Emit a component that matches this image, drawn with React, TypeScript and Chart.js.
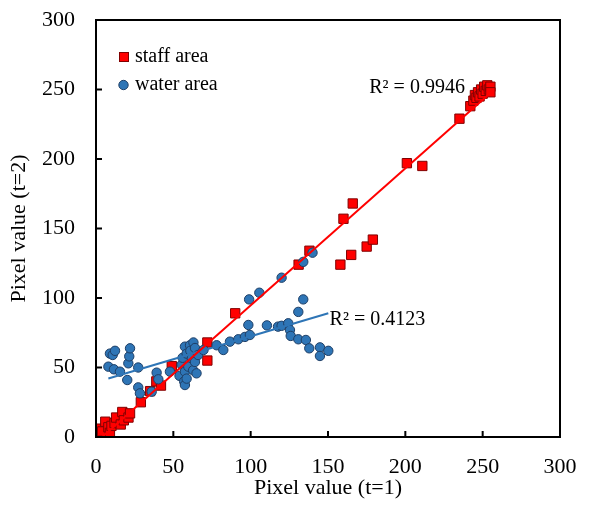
import React, { useEffect, useRef } from "react";
import { Chart, registerables } from "chart.js";

Chart.register(...registerables);

// staff area (x = t=1, y = t=2)
const staffX = [1, 4, 6, 8, 9, 10, 12, 13, 16, 17, 18, 21, 22, 29, 35, 39, 42, 49, 72, 72, 90, 131, 138, 158, 160, 165, 166, 175, 179, 201, 211, 235, 242, 244, 245, 246, 247, 248, 249, 250, 251, 252, 253, 254, 255, 255];
const staffY = [6, 4, 11, 7, 3, 8, 10, 14, 9, 18, 12, 14, 17, 25, 33, 40, 37, 51, 55, 68, 89, 124, 134, 124, 157, 131, 168, 137, 142, 197, 195, 229, 238, 242, 246, 244, 248, 245, 250, 247, 252, 249, 253, 250, 252, 248];

// water area
const waterX = [8, 9, 10.8, 11.6, 12.3, 15.5, 20.2, 20.9, 21.5, 22, 27.3, 27.3, 28.4, 36, 39.2, 40.3, 47.8, 54, 55.4, 56, 57, 57.5, 57.5, 57.5, 58.6, 58.6, 59.7, 60.8, 61, 62, 62.8, 63, 64, 64, 65, 66, 69.5, 78, 82.3, 86.6, 92, 96.3, 98.5, 99.5, 110.5, 117.7, 120, 124.3, 125.4, 125.9, 130.8, 130.8, 134, 135.7, 137.9, 144.8, 144.8, 150.2, 99, 105.6, 120, 134, 140];
const waterY = [50.6, 60, 59, 48.7, 62, 47, 41, 53, 58, 63.8, 50, 35.7, 31.4, 32.6, 46.3, 41.5, 47, 44, 52, 57, 40, 65, 47, 37.4, 60, 42, 50.6, 66, 62, 56.6, 48, 68, 64, 54, 45.8, 59, 62.6, 66, 62.6, 68.6, 70.3, 72, 80.6, 73.4, 80.3, 79.4, 80, 81.8, 77, 72.7, 90, 70.3, 99, 69.8, 63.8, 64.5, 58.3, 62, 99, 103.8, 114.6, 126, 132.6];

const axisTicks = [0, 50, 100, 150, 200, 250, 300];
const seriesNames = ["staff area", "water area"];
const r2Labels = ["R\u00B2 = 0.9946", "R\u00B2 = 0.4123"];

const FONT = "'Liberation Serif', 'Times New Roman', serif";
const RED = "#FF0000";
const RED_BORDER = "#800000";
const BLUE = "#2E75B6";
const BLUE_BORDER = "#1F3F66";

function trend(xs: number[], ys: number[]) {
  const n = xs.length;
  let sx = 0, sy = 0, sxx = 0, sxy = 0;
  for (let i = 0; i < n; i++) {
    sx += xs[i]; sy += ys[i]; sxx += xs[i] * xs[i]; sxy += xs[i] * ys[i];
  }
  const m = (n * sxy - sx * sy) / (n * sxx - sx * sx);
  const b = (sy - m * sx) / n;
  const x0 = Math.min(...xs), x1 = Math.max(...xs);
  return [{ x: x0, y: m * x0 + b }, { x: x1, y: m * x1 + b }];
}

export default function App() {
  const ref = useRef<HTMLCanvasElement>(null);
  useEffect(() => {
    document.body.style.margin = "0";
    const ctx = ref.current!.getContext("2d")!;
    const staffPts = staffX.map((x, i) => ({ x, y: staffY[i] }));
    const waterPts = waterX.map((x, i) => ({ x, y: waterY[i] }));

    const decor = {
      id: "decor",
      afterDraw(chart: any) {
        const c = chart.ctx;
        const { left, right, top, bottom } = chart.chartArea;
        const xs = chart.scales.x, ys = chart.scales.y;
        c.save();
        c.strokeStyle = "#000";
        c.lineWidth = 2;
        c.strokeRect(left, top, right - left, bottom - top);
        c.beginPath();
        for (const t of axisTicks) {
          const px = xs.getPixelForValue(t);
          c.moveTo(px, bottom); c.lineTo(px, bottom - 6);
          const py = ys.getPixelForValue(t);
          c.moveTo(left, py); c.lineTo(left + 6, py);
        }
        c.stroke();
        // legend
        c.font = `20px ${FONT}`;
        c.textBaseline = "middle";
        c.textAlign = "left";
        c.lineWidth = 1;
        c.fillStyle = RED; c.strokeStyle = RED_BORDER;
        c.fillRect(119, 52, 9, 9); c.strokeRect(119.5, 52.5, 9, 9);
        c.fillStyle = BLUE; c.strokeStyle = BLUE_BORDER;
        c.beginPath(); c.arc(123.5, 85, 4.7, 0, Math.PI * 2); c.fill(); c.stroke();
        c.fillStyle = "#000";
        c.fillText(seriesNames[0], 135, 57);
        c.fillText(seriesNames[1], 135, 85);
        // R2 labels
        c.textAlign = "right";
        c.fillText(r2Labels[0], xs.getPixelForValue(238.5), ys.getPixelForValue(251));
        c.textAlign = "left";
        c.fillText(r2Labels[1], xs.getPixelForValue(151), ys.getPixelForValue(84));
        c.restore();
      },
    };

    const chart = new Chart(ctx, {
      type: "scatter",
      data: {
        datasets: [
          {
            label: seriesNames[0],
            data: staffPts,
            pointStyle: "rect",
            pointRadius: 6.6,
            backgroundColor: RED,
            borderColor: RED_BORDER,
            borderWidth: 1,
            order: 3,
          },
          {
            label: seriesNames[1],
            data: waterPts,
            pointStyle: "circle",
            pointRadius: 4.7,
            backgroundColor: BLUE,
            borderColor: BLUE_BORDER,
            borderWidth: 1,
            order: 2,
          },
          {
            label: "water trend",
            data: trend(waterX, waterY),
            showLine: true,
            pointRadius: 0,
            borderColor: BLUE,
            borderWidth: 2,
            order: 1,
          },
          {
            label: "staff trend",
            data: trend(staffX, staffY),
            showLine: true,
            pointRadius: 0,
            borderColor: RED,
            borderWidth: 2,
            order: 0,
          },
        ],
      },
      options: {
        animation: false,
        responsive: false,
        maintainAspectRatio: false,
        layout: { padding: { left: 0, top: 20, right: 33, bottom: 0 } },
        plugins: { legend: { display: false }, tooltip: { enabled: false } },
        scales: {
          x: {
            type: "linear",
            min: 0,
            max: 300,
            afterBuildTicks: (s: any) => { s.ticks = axisTicks.map((v) => ({ value: v })); },
            afterFit: (s: any) => { s.height = 71; s.paddingLeft = 0; s.paddingRight = 0; },
            grid: { display: false, drawTicks: false },
            border: { display: false },
            ticks: { color: "#000", font: { family: FONT, size: 22 }, padding: 17 },
            title: { display: true, text: "Pixel value (t=1)", color: "#000", font: { family: FONT, size: 22 }, padding: { top: 0, bottom: 7 } },
          },
          y: {
            type: "linear",
            min: 0,
            max: 300,
            afterBuildTicks: (s: any) => { s.ticks = axisTicks.map((v) => ({ value: v })); },
            afterFit: (s: any) => { s.width = 96; s.paddingTop = 0; s.paddingBottom = 0; },
            grid: { display: false, drawTicks: false },
            border: { display: false },
            ticks: { color: "#000", font: { family: FONT, size: 22 }, padding: 21 },
            title: { display: true, text: "Pixel value (t=2)", color: "#000", font: { family: FONT, size: 22 }, padding: { top: 6, bottom: 0 } },
          },
        },
      },
      plugins: [decor],
    });
    return () => chart.destroy();
  }, []);
  return (
    <div style={{ width: 593, height: 508, background: "#fff" }}>
      <canvas ref={ref} width={593} height={508} style={{ display: "block" }} />
    </div>
  );
}
